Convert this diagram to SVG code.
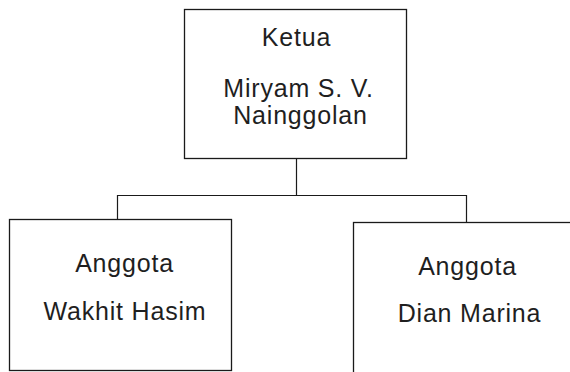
<svg xmlns="http://www.w3.org/2000/svg" width="570" height="372" viewBox="0 0 570 372">
<style>
.box{fill:#fff;stroke:#1a1a1a;stroke-width:1.3}
.t{font-family:"Liberation Sans",Arial,sans-serif;font-size:25px;letter-spacing:0.8px;fill:#1f1f1f;text-anchor:middle}
.c{fill:none;stroke:#1a1a1a;stroke-width:1.2}
</style>
<rect width="570" height="372" fill="#fff"/>
<g id="connectors">
<path class="c" d="M296.5 158V195.5M117.5 219V195.5H466.5V222"/>
</g>
<g id="ketua">
<rect class="box" x="184.5" y="9.5" width="222" height="149"/>
<text class="t" x="296.5" y="46">Ketua</text>
<text class="t" x="298.5" y="97">Miryam S. V.</text>
<text class="t" x="300.5" y="124">Nainggolan</text>
</g>
<g id="anggota1">
<rect class="box" x="9.5" y="219.5" width="222" height="151"/>
<text class="t" x="124.5" y="272">Anggota</text>
<text class="t" x="125" y="320">Wakhit Hasim</text>
</g>
<g id="anggota2">
<rect class="box" x="353.5" y="222.5" width="230" height="160"/>
<text class="t" x="467.5" y="275">Anggota</text>
<text class="t" x="469.5" y="322">Dian Marina</text>
</g>
</svg>
